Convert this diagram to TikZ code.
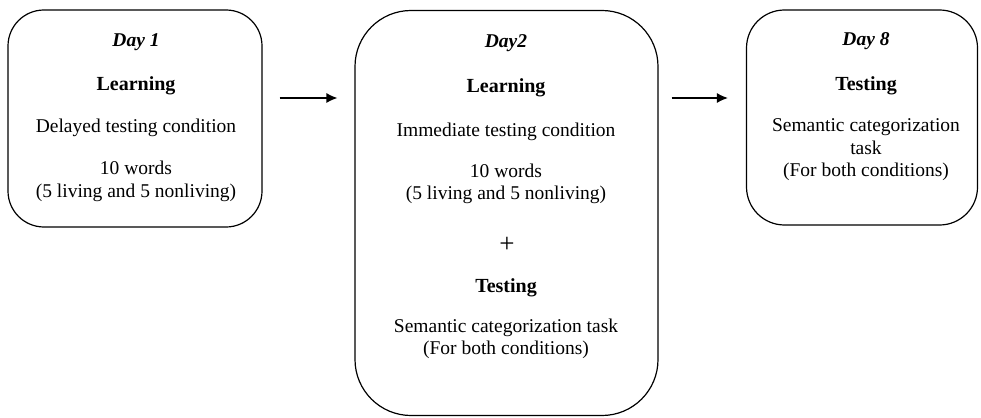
\documentclass[tikz,border=0pt]{standalone}
\usepackage{fontspec}
\setmainfont{Liberation Serif}
\usetikzlibrary{arrows.meta}

\tikzset{
  stage/.style={draw=black, line width=1.2pt, rounded corners=#1, inner sep=0pt},
  stage/.default=36pt,
  txt/.style={inner sep=0pt, align=center, font=\fontsize{19.5}{22.5}\selectfont},
  dayhead/.style={txt, font=\fontsize{19.5}{22.5}\selectfont\bfseries\itshape},
  phase/.style={txt, font=\fontsize{20}{23}\selectfont\bfseries},
  plussign/.style={txt, font=\fontsize{27}{27}\selectfont},
  arr/.style={line width=1.2pt, -{Latex[length=11pt,width=10pt]}}
}

\begin{document}
\begin{tikzpicture}[x=1pt, y=-1pt]
  \useasboundingbox (0,0) rectangle (981,417);

  % the three sessions
  \node[stage, minimum width=254pt, minimum height=217pt] (day1) at (135,118.5) {};
  \node[stage=56pt, minimum width=303pt, minimum height=405pt] (day2) at (506.5,213) {};
  \node[stage=38pt, minimum width=231pt, minimum height=215pt] (day8) at (862,117.5) {};

  % Day 1
  \node[dayhead] (d1head) at (136,42) {Day 1};
  \node[phase] (d1learn) at (136,86) {Learning};
  \node[txt] (d1cond) at (136,128) {Delayed testing condition};
  \node[txt] (d1words) at (136,181.5) {10 words\\(5 living and 5 nonliving)};

  % Day 2
  \node[dayhead] (d2head) at (506,43) {Day2};
  \node[phase] (d2learn) at (506,88) {Learning};
  \node[txt] (d2cond) at (506,132) {Immediate testing condition};
  \node[txt] (d2words) at (506,184) {10 words\\(5 living and 5 nonliving)};
  \node[plussign] (d2plus) at (507,245) {+};
  \node[phase] (d2test) at (506,288) {Testing};
  \node[txt] (d2task) at (506,339) {Semantic categorization task\\(For both conditions)};

  % Day 8
  \node[dayhead] (d8head) at (866,41) {Day 8};
  \node[phase] (d8test) at (866,86) {Testing};
  \node[txt] (d8task) at (866,150) {Semantic categorization\\task\\(For both conditions)};

  % connectors between sessions
  \coordinate (ay) at (0,98);
  \draw[arr] ([xshift=17pt]day1.east |- ay) -- ([xshift=-17pt]day2.west |- ay);
  \draw[arr] ([xshift=13pt]day2.east |- ay) -- ([xshift=-18pt]day8.west |- ay);
\end{tikzpicture}
\end{document}
